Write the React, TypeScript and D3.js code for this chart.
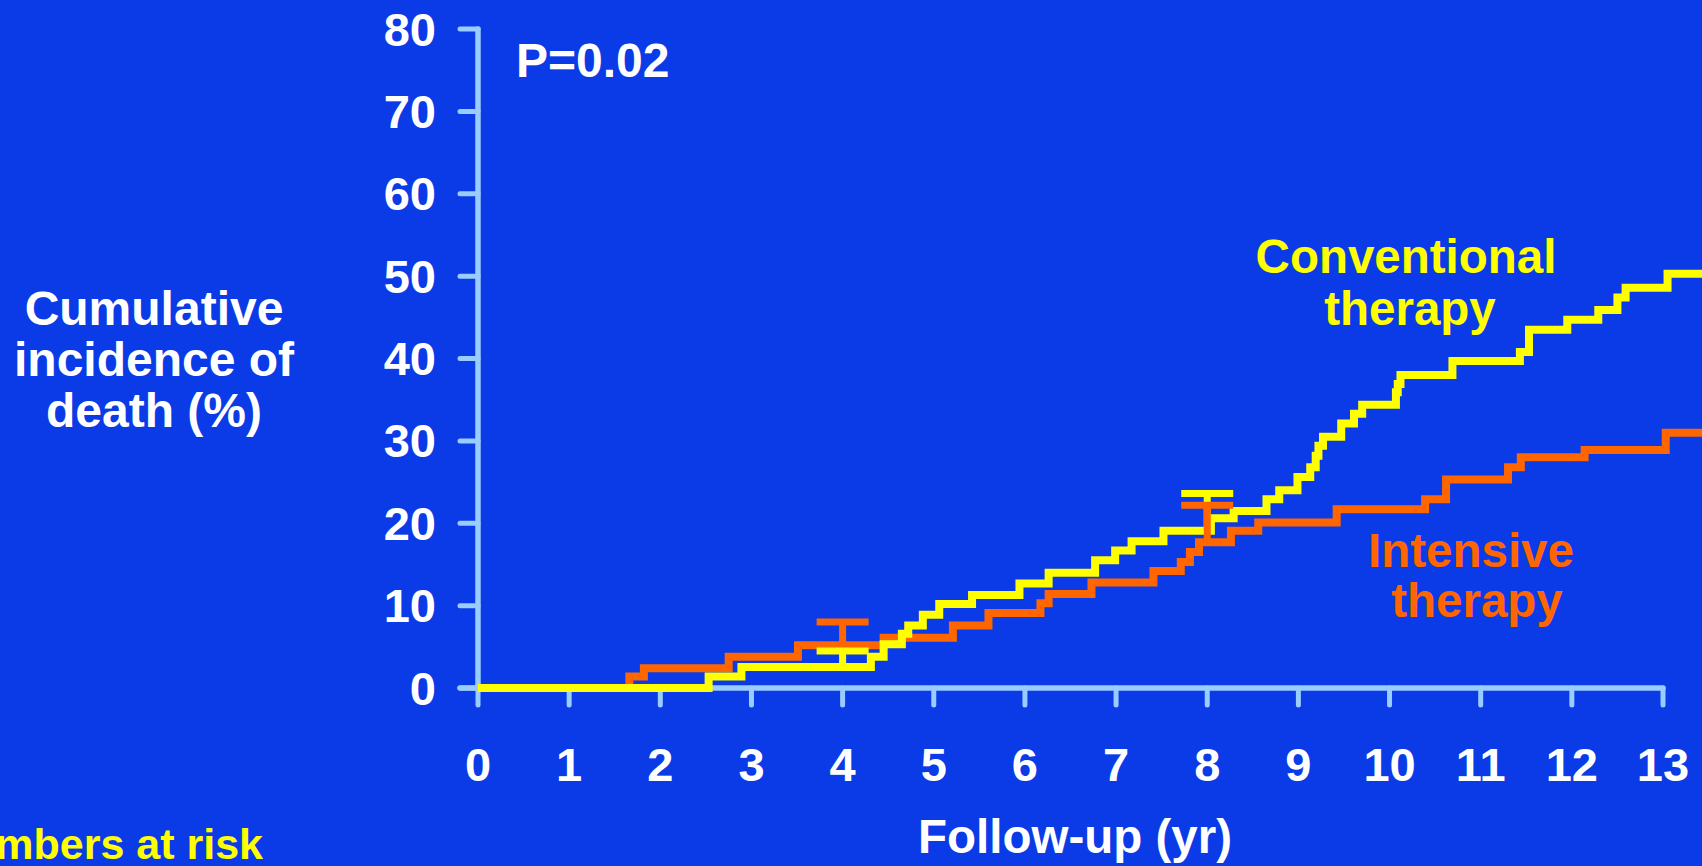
import React from "react";
import * as d3 from "d3";

const W = 1702;
const H = 866;

const xTicks = [0, 1, 2, 3, 4, 5, 6, 7, 8, 9, 10, 11, 12, 13];
const yTicks = [0, 10, 20, 30, 40, 50, 60, 70, 80];

// Conventional therapy: [year, cumulative %]
const conventional: [number, number][] = [
  [0, 0], [2.53, 1.4], [2.89, 2.55], [4.31, 3.8], [4.45, 5.3], [4.65, 6.6], [4.72, 7.6],
  [4.88, 8.9], [5.06, 10.2], [5.42, 11.3], [5.94, 12.7], [6.26, 14.0], [6.77, 15.5],
  [6.99, 16.7], [7.17, 17.8], [7.52, 19.1], [8.04, 20.6], [8.29, 21.5], [8.65, 22.9],
  [8.79, 24.0], [8.99, 25.6], [9.13, 26.8], [9.19, 28.2], [9.22, 29.4], [9.27, 30.5],
  [9.47, 32.1], [9.61, 33.3], [9.7, 34.4], [10.07, 35.9], [10.09, 36.9], [10.12, 38.0],
  [10.69, 39.7], [11.43, 40.8], [11.53, 43.5], [11.95, 44.7], [12.29, 45.9], [12.5, 47.4],
  [12.59, 48.6], [13.05, 50.3], [13.45, 50.3],
];

// Intensive therapy: [year, cumulative %]
const intensive: [number, number][] = [
  [0, 0], [1.66, 1.4], [1.82, 2.4], [2.75, 3.8], [3.51, 5.2], [4.45, 6.1], [5.21, 7.6],
  [5.6, 9.1], [6.17, 10.3], [6.26, 11.4], [6.73, 12.8], [7.41, 14.2], [7.71, 15.3],
  [7.81, 16.5], [7.91, 17.7], [8.26, 19.1], [8.56, 20.1], [9.42, 21.7], [10.39, 22.9],
  [10.62, 25.3], [11.3, 26.8], [11.44, 28.0], [12.14, 28.9], [13.03, 31.0], [13.45, 31.0],
];

// Error bars: [year, line value, upper value]
const convErr: [number, number, number][] = [[4, 2.55, 4.5], [8, 19.1, 23.6]];
const intErr: [number, number, number][] = [[4, 5.2, 8.0], [8, 17.7, 22.2]];

const BG = "#0a3be7";
const AXIS = "#99ccff";
const YEL = "#ffff00";
const ORA = "#ff6600";
const FONT = "'Liberation Sans', Arial, sans-serif";

export default function App() {
  const x = d3.scaleLinear().domain([0, 13]).range([478, 1663]);
  const y = d3.scaleLinear().domain([0, 80]).range([688, 29]);
  const line = d3
    .line<[number, number]>()
    .x((d) => x(d[0]))
    .y((d) => y(d[1]))
    .curve(d3.curveStepAfter);

  const capHalf = 26;
  const errBars = (data: [number, number, number][], color: string) =>
    data.map(([t, lo, hi], i) => (
      <g key={i}>
        <line x1={x(t)} x2={x(t)} y1={y(lo)} y2={y(hi)} stroke={color} strokeWidth={7} />
        <line x1={x(t) - capHalf} x2={x(t) + capHalf} y1={y(hi)} y2={y(hi)} stroke={color} strokeWidth={7} />
      </g>
    ));

  return (
    <svg
      width={W}
      height={H}
      style={{ position: "fixed", left: 0, top: 0, display: "block" }}
      fontFamily={FONT}
      fontWeight="bold"
    >
      <rect x={0} y={0} width={W} height={H} fill={BG} />

      {/* axes */}
      <line x1={x(0)} x2={x(0)} y1={y(80)} y2={y(0)} stroke={AXIS} strokeWidth={5.5} strokeLinecap="round" />
      <line x1={460} x2={x(13)} y1={y(0)} y2={y(0)} stroke={AXIS} strokeWidth={5.5} strokeLinecap="round" />
      {yTicks.map((t) => (
        <g key={"y" + t}>
          <line x1={460} x2={x(0)} y1={y(t)} y2={y(t)} stroke={AXIS} strokeWidth={5} strokeLinecap="round" />
          <text x={436} y={y(t) + 16.5} fill="#fff" fontSize={47} textAnchor="end">
            {t}
          </text>
        </g>
      ))}
      {xTicks.map((t) => (
        <g key={"x" + t}>
          <line x1={x(t)} x2={x(t)} y1={y(0)} y2={705} stroke={AXIS} strokeWidth={5} strokeLinecap="round" />
          <text x={x(t)} y={781} fill="#fff" fontSize={47} textAnchor="middle">
            {t}
          </text>
        </g>
      ))}

      {/* curves */}
      <path d={line(intensive) ?? ""} fill="none" stroke={ORA} strokeWidth={8} strokeLinejoin="miter" />
      <path d={line(conventional) ?? ""} fill="none" stroke={YEL} strokeWidth={8} strokeLinejoin="miter" />
      {errBars(convErr, YEL)}
      {errBars(intErr, ORA)}

      {/* labels */}
      <text x={516} y={77} fill="#fff" fontSize={48}>P=0.02</text>
      <text fill="#fff" fontSize={48} textAnchor="middle">
        <tspan x={154} y={325}>Cumulative</tspan>
        <tspan x={154} y={376}>incidence of</tspan>
        <tspan x={154} y={427}>death (%)</tspan>
      </text>
      <text fill={YEL} fontSize={47.5} textAnchor="middle">
        <tspan x={1406} y={273}>Conventional</tspan>
        <tspan x={1410} y={325}>therapy</tspan>
      </text>
      <text fill={ORA} fontSize={47.5} textAnchor="middle">
        <tspan x={1471} y={567}>Intensive</tspan>
        <tspan x={1477} y={617}>therapy</tspan>
      </text>
      <text x={1075} y={853} fill="#fff" fontSize={47.5} textAnchor="middle">Follow-up (yr)</text>
      <text x={263} y={859} fill={YEL} fontSize={43} textAnchor="end">Numbers at risk</text>
    </svg>
  );
}
